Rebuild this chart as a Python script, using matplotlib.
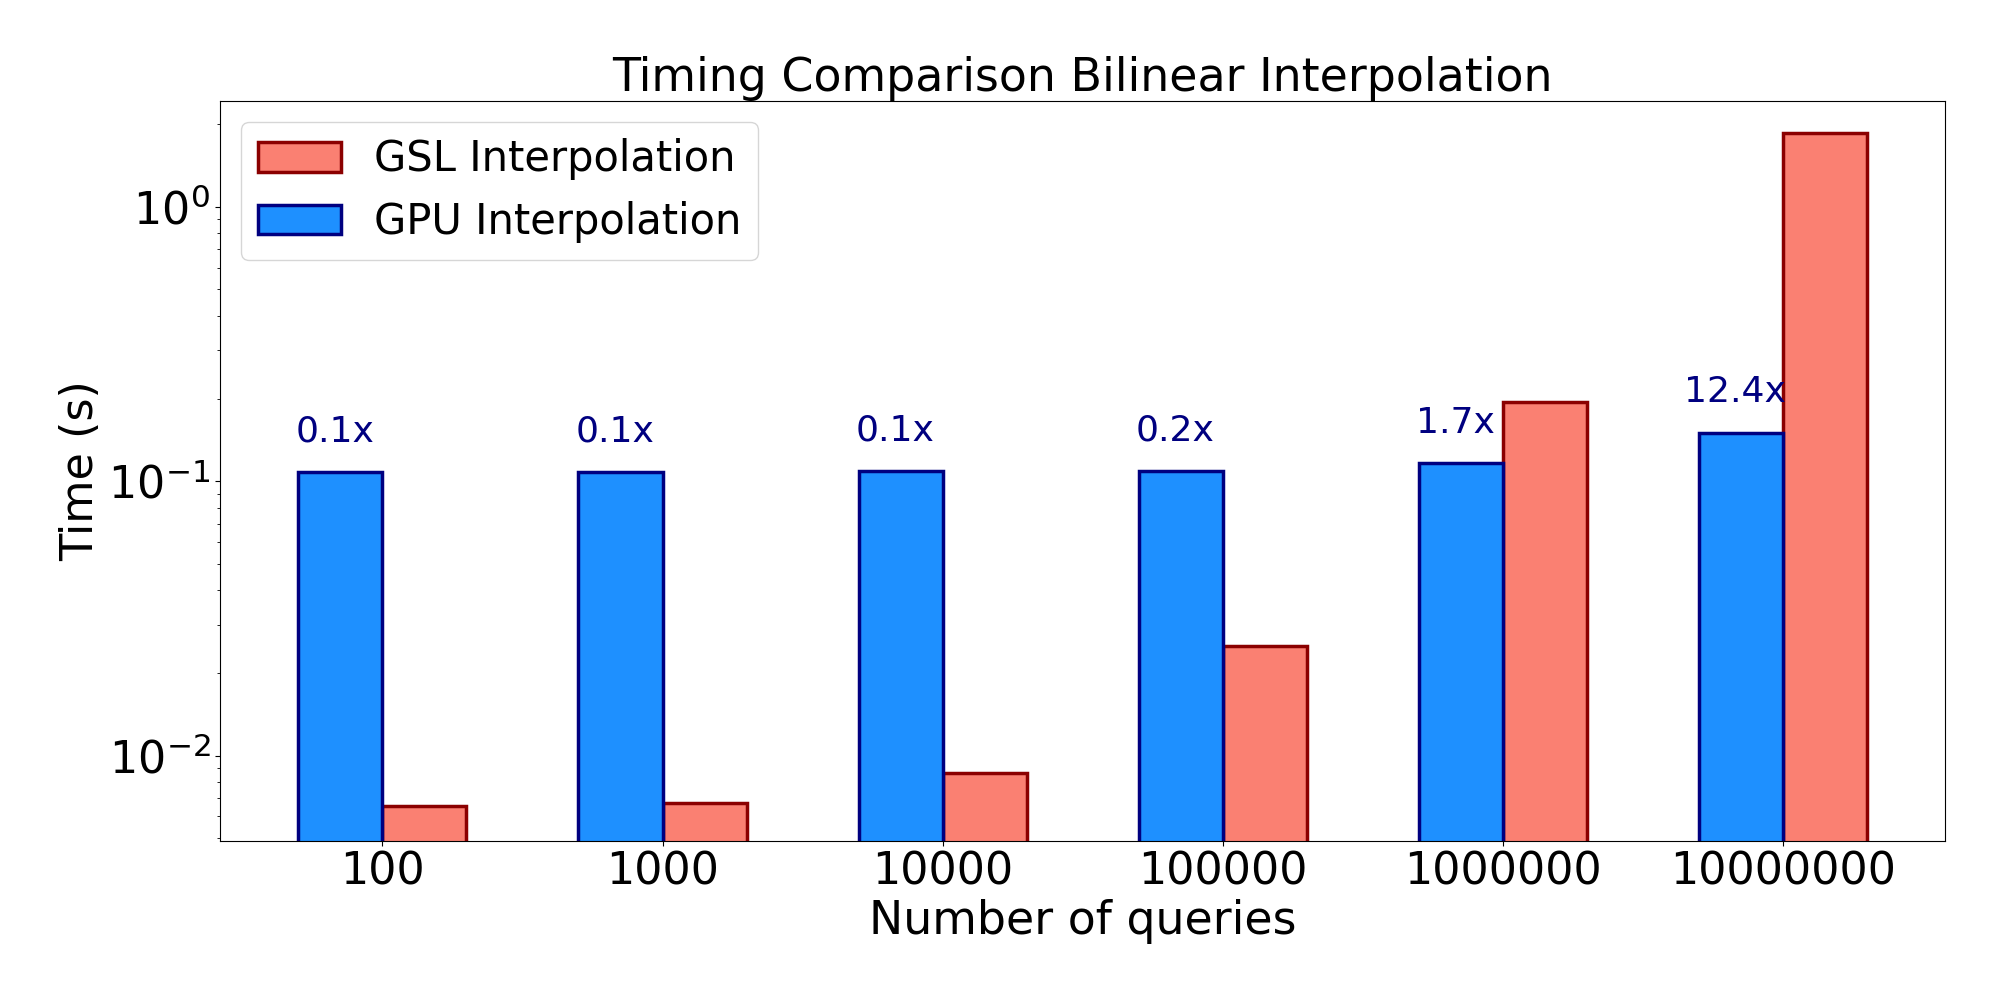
import numpy as np
import matplotlib
matplotlib.use('Agg')
import matplotlib.pyplot as plt

queries = ['100', '1000', '10000', '100000', '1000000', '10000000']
gsl_time = [0.00652, 0.00673, 0.0086, 0.0251, 0.194, 1.86]
gpu_time = [0.1078, 0.1078, 0.109, 0.109, 0.116, 0.150]
speedup = ['0.1x', '0.1x', '0.1x', '0.2x', '1.7x', '12.4x']

x = np.arange(len(queries))
w = 0.3

fig, ax = plt.subplots(figsize=(20, 10), dpi=100)
fig.subplots_adjust(left=0.110, right=0.9726, top=0.899, bottom=0.159)

ax.bar(x, gsl_time, w, align='edge', color='salmon', edgecolor='darkred',
       linewidth=2.5, label='GSL Interpolation')
ax.bar(x - w, gpu_time, w, align='edge', color='dodgerblue', edgecolor='navy',
       linewidth=2.5, label='GPU Interpolation')

for i in range(len(x)):
    ax.text(x[i] - w / 2 - 0.02, gpu_time[i] * 1.22, speedup[i], ha='center', va='bottom',
            fontsize=26, color='navy')

ax.set_yscale('log')
ax.set_ylim(0.00488, 2.43)
ax.set_xticks(x)
ax.set_xticklabels(queries)
ax.tick_params(axis='both', labelsize=32)
ax.set_xlabel('Number of queries', fontsize=33)
ax.set_ylabel('Time (s)', fontsize=32)
ax.set_title('Timing Comparison Bilinear Interpolation', fontsize=33)
ax.legend(loc='upper left', fontsize=30)

plt.savefig('out.png')
